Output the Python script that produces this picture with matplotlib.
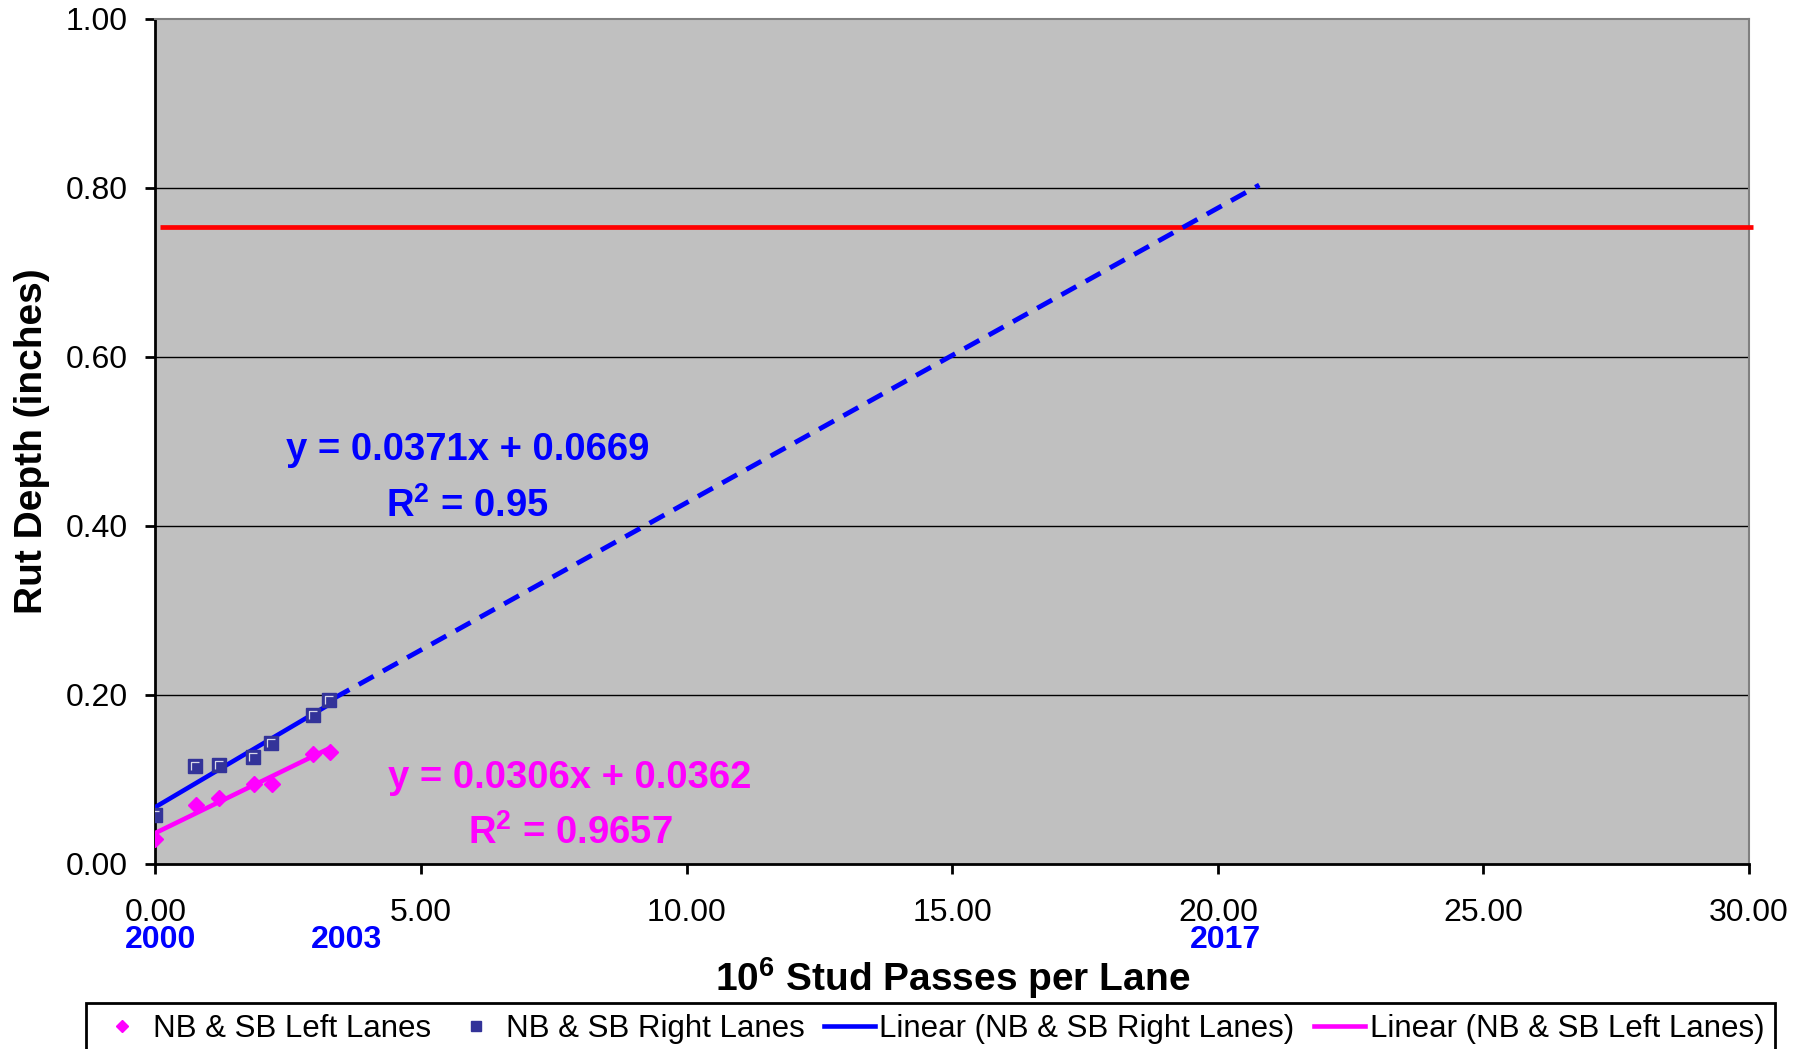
import numpy as np
import matplotlib
matplotlib.use('Agg')
import matplotlib.pyplot as plt
from matplotlib.lines import Line2D
from matplotlib.path import Path

plt.rcParams['font.family'] = ['Liberation Sans', 'DejaVu Sans']
plt.rcParams['mathtext.fontset'] = 'custom'
plt.rcParams['mathtext.rm'] = 'Liberation Sans'
plt.rcParams['mathtext.bf'] = 'Liberation Sans:bold'

# measured rut depths vs. cumulative stud passes (millions)
left_x = [0.00, 0.76, 1.20, 1.85, 2.19, 2.97, 3.29]
left_y = [0.029, 0.069, 0.078, 0.094, 0.094, 0.130, 0.132]
right_x = [0.00, 0.74, 1.20, 1.83, 2.17, 2.96, 3.27]
right_y = [0.057, 0.115, 0.117, 0.126, 0.143, 0.176, 0.194]

# linear fits
right_slope, right_icpt, right_r2 = 0.0371, 0.0669, '0.95'
left_slope, left_icpt, left_r2 = 0.0306, 0.0362, '0.9657'

# hand-drawn projection of the right lane trend
proj_x = [3.37, 20.78]
proj_y = [0.196, 0.803]

limit_depth = 0.753
limit_x = [0.08, 30.08]

year_labels = ['2000', '2003', '2017']
year_x = [0.09, 3.6, 20.15]

x_ticks = np.arange(0, 31, 5)
y_ticks = np.arange(0, 1.01, 0.2)

BLUE = '#0000FF'
MAGENTA = '#FF00FF'
NAVY = '#333399'

fig = plt.figure(figsize=(18.08, 10.49), dpi=100)
ax = fig.add_axes([0.086, 0.1768, 0.8814, 0.8055])
ax.set_facecolor('#C0C0C0')

# gridlines
for y in y_ticks[1:-1]:
    ax.axhline(y, color='black', lw=1.0, zorder=1)

# red limit line
ax.plot(limit_x, [limit_depth, limit_depth], color='#FF0000', lw=3.4,
        solid_capstyle='butt', clip_on=False, zorder=3)

# trend lines
rx = np.array([0, right_x[-1]])
lx = np.array([0, left_x[-1]])
ax.plot(rx, right_slope * rx + right_icpt, color=BLUE, lw=3.3, zorder=4)
ax.plot(lx, left_slope * lx + left_icpt, color=MAGENTA, lw=3.3, zorder=4)
ax.plot(proj_x, proj_y, color=BLUE, lw=3.5, dashes=(3.5, 2.2),
        dash_capstyle='butt', zorder=4)

# data points
ax.plot(left_x, left_y, linestyle='none', marker='D', ms=8.6,
        color=MAGENTA, zorder=5)
ax.plot(right_x, right_y, linestyle='none', marker='s', ms=9.6,
        color=NAVY, mec=NAVY, zorder=5)
corner = Path([(-0.5, -0.5), (-0.5, 0.5), (0.5, 0.5)],
              [Path.MOVETO, Path.LINETO, Path.LINETO])
ax.plot(right_x, right_y, linestyle='none', marker=corner, ms=5.8,
        mec='#D8D8E8', mew=0.9, mfc='none', zorder=6)

ax.set_xlim(0, 30)
ax.set_ylim(0, 1)
ax.set_xticks(x_ticks)
ax.set_yticks(y_ticks)
ax.xaxis.set_major_formatter(plt.FormatStrFormatter('%.2f'))
ax.yaxis.set_major_formatter(plt.FormatStrFormatter('%.2f'))
ax.tick_params(direction='out', length=7, width=2, labelsize=23)
ax.tick_params(axis='x', pad=18)
ax.tick_params(axis='y', pad=13)

for side in ['left', 'bottom']:
    ax.spines[side].set_linewidth(2)
    ax.spines[side].set_color('black')
for side in ['top', 'right']:
    ax.spines[side].set_linewidth(1.5)
    ax.spines[side].set_color('#808080')

# equation labels
ax.text(5.87, 0.489, 'y = %.4fx + %.4f' % (right_slope, right_icpt),
        color=BLUE, fontsize=27.5, fontweight='bold', ha='center', va='center')
ax.text(5.88, 0.423, r'R$^{\mathbf{2}}$ = ' + right_r2,
        color=BLUE, fontsize=27.5, fontweight='bold', ha='center', va='center')
ax.text(7.79, 0.101, 'y = %.4fx + %.4f' % (left_slope, left_icpt),
        color=MAGENTA, fontsize=27.5, fontweight='bold', ha='center', va='center')
ax.text(7.82, 0.036, r'R$^{\mathbf{2}}$ = ' + left_r2,
        color=MAGENTA, fontsize=27.5, fontweight='bold', ha='center', va='center')

# year markers under the x axis
trans = ax.get_xaxis_transform()
for lbl, xv in zip(year_labels, year_x):
    ax.text(xv, -0.1, lbl, transform=trans, color=BLUE, fontsize=23,
            fontweight='bold', ha='center', va='baseline', clip_on=False)

ax.set_xlabel(r'$\mathbf{10^6}$ Stud Passes per Lane', fontsize=28,
              fontweight='bold')
ax.xaxis.set_label_coords(0.5, -0.108)
ax.set_ylabel('Rut Depth (inches)', fontsize=28, fontweight='bold')
ax.yaxis.set_label_coords(-0.066, 0.5)

handles = [
    Line2D([], [], linestyle='none', marker='D', ms=6.5, color=MAGENTA),
    Line2D([], [], linestyle='none', marker='s', ms=7, color=NAVY),
    Line2D([], [], color=BLUE, lw=3.3),
    Line2D([], [], color=MAGENTA, lw=3.3),
]
labels = ['NB & SB Left Lanes', 'NB & SB Right Lanes',
          'Linear (NB & SB Right Lanes)', 'Linear (NB & SB Left Lanes)']
leg = fig.legend(handles, labels, loc='upper left',
                 bbox_to_anchor=(86 / 1808, 1 - 1003 / 1049), ncol=4,
                 fontsize=22.5, handlelength=1.63, handletextpad=0.15,
                 columnspacing=0.62, borderpad=0.35, borderaxespad=0,
                 fancybox=False, framealpha=1)
leg.get_frame().set_edgecolor('black')
leg.get_frame().set_linewidth(2)

plt.savefig('out.png', dpi=100)
